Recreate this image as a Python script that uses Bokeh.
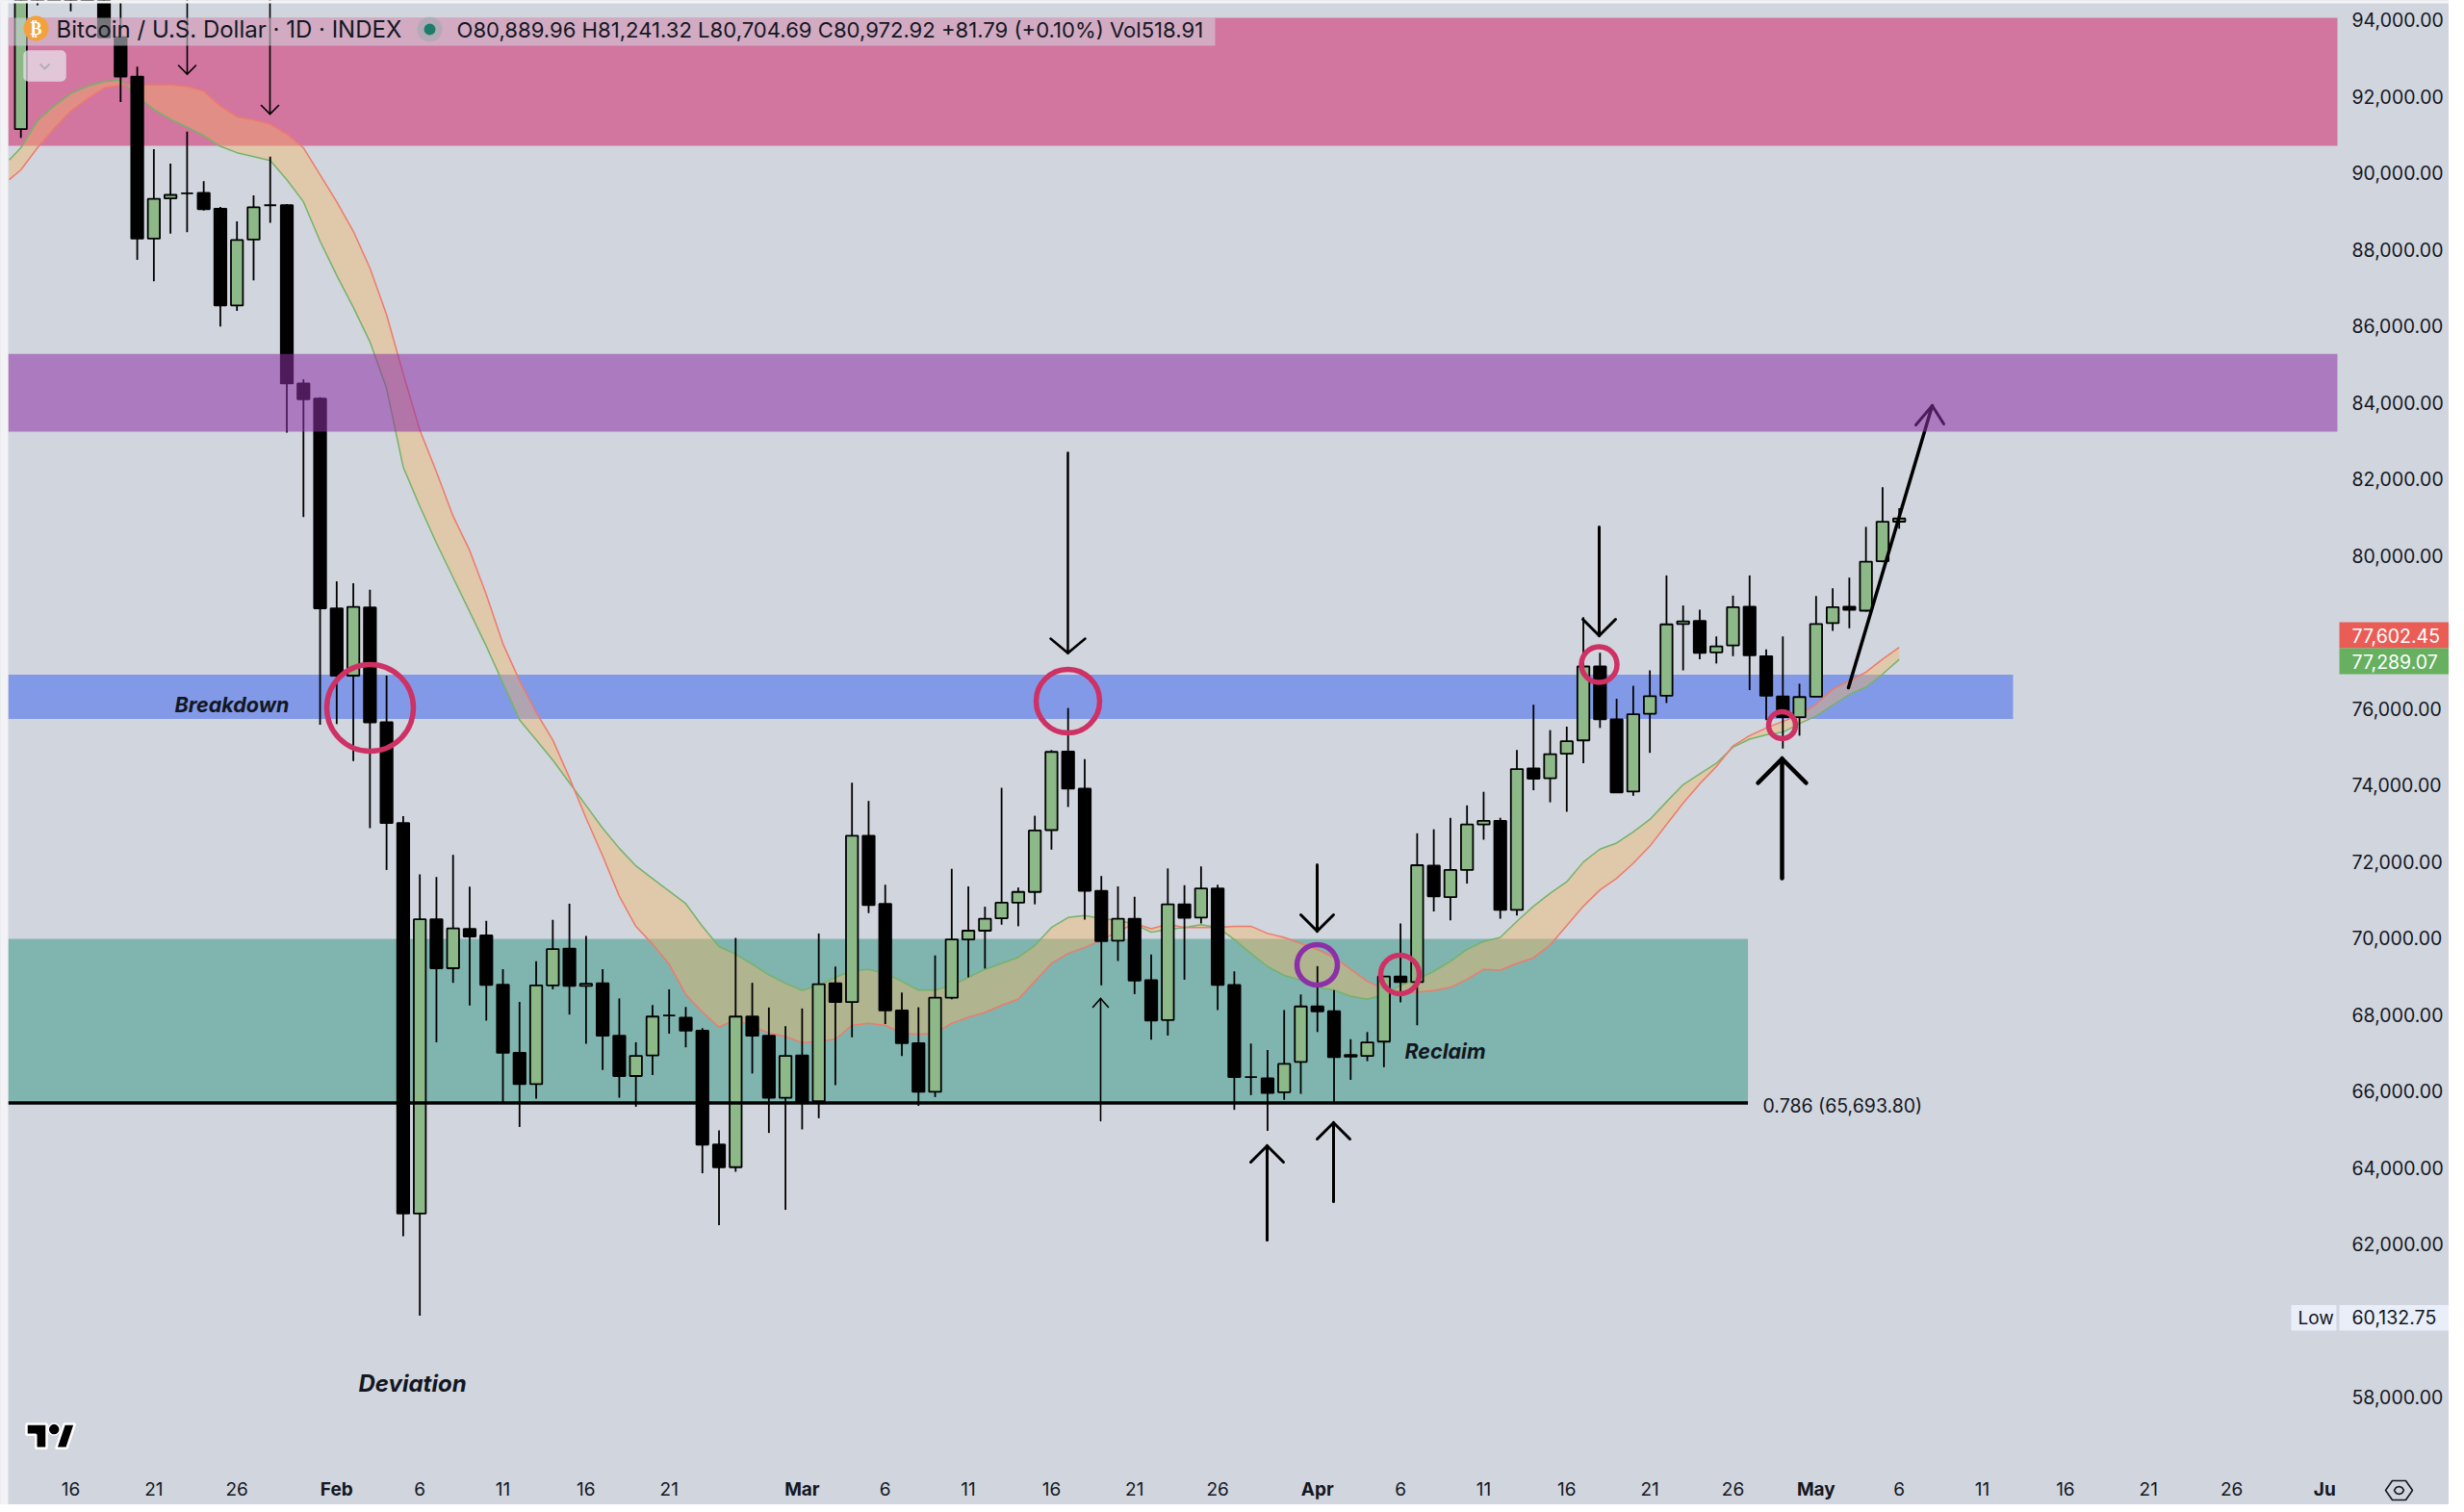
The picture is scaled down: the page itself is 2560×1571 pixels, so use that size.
from bokeh.plotting import figure
from bokeh.models import (Range1d, LinearAxis, FixedTicker, NumeralTickFormatter, Label,
                          BoxAnnotation, PolyAnnotation)
from bokeh.embed import file_html
from bokeh.resources import INLINE

# ---- data: day numbers count from 16 Jan (0) ----
first_day = -3
opens = [91150,96000,97000,97300,96800,96500,93551,92524,88288,89341,89470,89482,89072,86543,88263,89161,89161,84502,84104,78624,
 76865,78648,75645,73011,62805,70496,69218,70245,70074,68784,67006,66189,68770,69732,68757,68823,67453,66400,66940,67980,
 67927,67585,64608,64016,67954,67453,65833,66940,65741,68823,68332,72682,70898,68113,67258,65986,68447,69970,70199,70523,
 70929,71211,72828,74882,73912,71242,69939,70512,68906,67863,70888,70544,71305,68781,66372,66340,65976,66768,68218,68092,
 66950,66924,67300,69000,68854,71899,71075,71785,72974,73068,70742,74443,74184,74825,75173,77104,75723,73836,75869,76340,
 78216,78294,77474,77655,78665,77374,76318,75779,76317,78238,78665,78564,79856,80889.96]
highs = [97000,97600,97600,97500,97200,97000,94500,92781,90624,90252,91087,89790,89120,88738,89418,90432,89190,84610,84140,79330,
 79278,79111,76865,73195,71668,71602,72181,71352,70456,69192,68336,69402,70482,70904,70061,69192,68428,67282,68257,68665,
 68204,67650,64977,70009,68836,68191,67703,68165,70126,69261,74069,73589,71399,68583,68197,69553,71816,71357,70825,73933,
 71326,73203,74920,76019,74684,71628,71357,71086,69574,71826,71388,71879,71399,69136,67248,67081,68124,68531,69271,68645,
 67362,67550,69000,70387,72744,72849,73151,73474,73829,73151,74924,76105,75442,75532,78396,77463,76262,76599,77003,79485,
 78699,78587,77890,78957,79485,77553,77890,76655,78946,79148,79429,80754,81787,81241.32]
lows = [90920,94385,95500,94231,95200,93551,91857,87736,87171,88417,88455,89020,85991,86402,87197,88699,83220,81011,75582,75600,
 74631,72879,71786,62212,60132.75,67282,68836,68244,67848,65702,65069,65807,68665,68006,67243,66558,65833,65596,66426,67506,
 67150,63858,62502,63897,66466,64912,62902,65004,65297,66163,67415,70658,67759,66924,65620,65850,68405,68979,69208,70356,
 70314,70888,72317,73433,70491,68771,69407,68541,67352,67456,68917,70387,68124,65516,65902,64964,65777,65934,67550,65694,
 66299,66789,66632,68322,67727,70700,70470,71430,72577,70512,70596,73870,73555,73308,74577,75498,73814,73724,74847,76150,
 77003,77295,77183,77374,76487,75700,74959,75296,76317,78036,78104,78540,79830,80704.69]
closes = [96000,97000,97300,96800,96500,93551,92524,88288,89328,89431,89470,89058,86543,88250,89110,89161,84502,84092,78624,76865,
 78662,75645,73011,62805,70496,69218,70258,70048,68784,67006,66189,68770,69718,68757,68810,67453,66400,66927,67954,67980,
 67585,64608,64016,67954,67453,65833,66927,65728,68800,68332,72682,70867,68113,67258,65986,68447,69970,70199,70512,70929,
 71211,72817,74872,73912,71242,69928,70512,68896,67852,70888,70533,71305,68781,66372,66372,65955,66716,68218,68092,66893,
 66905,67279,69000,68854,71910,71096,71785,72974,73068,70742,74423,74173,74813,75150,77104,75723,73814,75858,76329,78205,
 78283,77463,77632,78654,77396,76340,75779,76306,78216,78654,78587,79844,80889,80972.92]

ribbon_days = [-3.7] + list(range(-3, 111))
ema_green = [90342,90663,91369,91754,92075,92267,92396,92434,92011,91664,91407,91202,90984,90701,90534,90432,90329,89829,89251,88224,
 87326,86491,85593,84374,82320,81293,80331,79432,78534,77635,76673,75710,75184,74657,74065,73472,72879,72353,71892,71562,
 71233,70904,70311,69784,69587,69323,69045,68823,68635,68770,68979,69156,69188,69083,68875,68645,68645,68770,68979,69188,
 69344,69501,69813,70283,70544,70596,70512,70470,70366,70158,70231,70283,70356,70283,69970,69605,69261,69031,68906,68718,
 68645,68489,68405,68531,68770,68927,69136,69396,69709,69918,70022,70445,70838,71175,71478,71994,72331,72489,72781,73106,
 73567,74016,74297,74577,74993,75206,75319,75386,75611,75813,76093,76374,76565,76902,77289.07]
ema_red = [89829,90085,90663,91176,91626,91946,92229,92306,92306,92306,92306,92267,92139,91754,91471,91394,91279,91022,90663,89957,
 89251,88481,87518,86299,84759,83283,82192,81037,80138,78983,77700,76737,75903,75184,74196,73143,72155,71101,70311,69850,
 69323,68533,68072,67677,67875,67700,67520,67430,67270,67310,67362,67727,67780,67727,67519,67487,67519,67780,67936,68061,
 68249,68405,68875,69344,69605,69761,69949,70178,70387,70251,70366,70283,70283,70283,70314,70314,70126,70022,69866,69709,
 69501,69188,68875,68666,68562,68593,68635,68718,68927,69188,69167,69344,69490,69827,70332,70838,71264,71568,71961,72410,
 72972,73533,74038,74488,75027,75296,75498,75667,75835,76116,76509,76734,76958,77295,77602.45]

zone_pink = (90714, 94060)
zone_purple = (83243, 85272)
zone_blue = (75736, 76891)
zone_teal = (65693.8, 69986)
fib_level = 65693.80
blue_end_day = 116.85
teal_end_day = 100.9

price_ticks = [58000,62000,64000,66000,68000,70000,72000,74000,76000,80000,82000,84000,86000,88000,90000,92000,94000]
day_ticks = [0,5,10,21,26,31,36,49,54,59,64,69,80,85,90,95,100,110,115,120,125,130]
day_labels = ["16","21","26","6","11","16","21","6","11","16","21","26","6","11","16","21","26","6","11","16","21","26"]
month_ticks = [16,44,75,105,135.6]
month_labels = ["Feb","Mar","Apr","May","Ju"]

# ---- reference pixel -> data helpers for chrome and drawings ----
def X(px): return (px - 73) / 17.27
def Y(py): return 94000 - (py - 20.4) / 0.03975

W, H = 2544, 1563
BG = "#d1d5de"
INK = "#131722"
FONT = "Inter"
STRIP = "#F3F3F5"
p = figure(width=W, height=H, output_backend="svg", toolbar_location=None,
           x_range=Range1d(X(0), X(W)), y_range=Range1d(Y(H), Y(0)),
           min_border_left=0, min_border_top=0, min_border_right=0, min_border_bottom=0,
           x_axis_type=None, y_axis_type=None, background_fill_color=BG, border_fill_color=BG)
p.outline_line_color = None
p.grid.visible = False

def style(ax, standoff, size="19.5px"):
    ax.major_tick_line_color = None; ax.minor_tick_line_color = None; ax.axis_line_color = None
    ax.major_tick_out = 0; ax.major_tick_in = 0; ax.minor_tick_out = 0; ax.minor_tick_in = 0
    ax.major_label_standoff = standoff
    ax.major_label_text_font = FONT; ax.major_label_text_font_size = size; ax.major_label_text_color = INK

L, R = X(8), X(2428)
p.quad(left=L, right=R, bottom=zone_pink[0], top=zone_pink[1], fill_color="#D276A0", line_color=None)
p.quad(left=L, right=blue_end_day, bottom=zone_blue[0], top=zone_blue[1], fill_color="#8299E8", line_color=None)
p.quad(left=L, right=teal_end_day, bottom=zone_teal[0], top=zone_teal[1], fill_color="#80B4AF", line_color=None)

p.varea(x=ribbon_days, y1=ema_green, y2=ema_red, fill_color="#F8B560", fill_alpha=0.4)
p.line(ribbon_days, ema_green, line_color="#74B36A", line_width=1.5)
p.line(ribbon_days, ema_red, line_color="#EE7A6B", line_width=1.5)

days = [first_day + i for i in range(len(opens))]
assert len(opens) == len(highs) == len(lows) == len(closes)
assert len(ema_green) == len(ema_red) == len(ribbon_days)
p.segment(days, highs, days, lows, line_color="#000000", line_width=1.8)
ups = [i for i in range(len(days)) if closes[i] >= opens[i]]
downs = [i for i in range(len(days)) if closes[i] < opens[i]]
p.vbar(x=[days[i] for i in ups], width=0.72, bottom=[opens[i] for i in ups], top=[closes[i] for i in ups],
       fill_color="#8DB888", line_color="#000000", line_width=1.8)
p.vbar(x=[days[i] for i in downs], width=0.72, bottom=[closes[i] for i in downs], top=[opens[i] for i in downs],
       fill_color="#000000", line_color="#000000", line_width=1.8)

p.line([L, teal_end_day], [fib_level, fib_level], line_color="#000000", line_width=3.5)

def arrow(x, tail, tip, half, hh, lw):
    d = 1 if tail > tip else -1  # up on the page if tail is lower
    p.line([X(x), X(x)], [Y(tail), Y(tip)], line_color="#000000", line_width=lw, line_cap="round")
    p.line([X(x - half), X(x), X(x + half)], [Y(tip + d * hh), Y(tip), Y(tip + d * hh)],
           line_color="#000000", line_width=lw, line_cap="round", line_join="miter")

arrow(194, 0, 76.5, 9, 9, 1.6)
arrow(280, 0, 118, 9, 9, 1.6)
arrow(1109, 470, 678, 18, 15, 2.5)
arrow(1143, 1164, 1037, 8, 9, 1.6)
arrow(1316, 1288, 1190, 17, 17, 3)
arrow(1385, 1248, 1166, 17, 17, 3)
arrow(1368, 898, 967, 17, 17, 3)
arrow(1661, 547, 660, 17, 17, 3)
arrow(1851, 912, 788, 25, 25, 4.5)
p.line([X(1920), X(2007)], [Y(714), Y(421)], line_color="#000000", line_width=3.5, line_cap="round")
p.line([X(1990), X(2007), X(2019)], [Y(441), Y(421), Y(440)], line_color="#000000", line_width=3, line_cap="round")

p.quad(left=L, right=R, bottom=zone_purple[0], top=zone_purple[1], fill_color="#8E31A5", fill_alpha=0.55, line_color=None)

RED = "#CE3163"
for cx, cy, r, col in [(384, 735, 45, RED), (1109, 728, 33, RED), (1368, 1002, 21, "#8C30A8"),
                       (1454, 1012, 20, RED), (1661, 690, 18.5, RED), (1851, 753, 14, RED)]:
    p.scatter([X(cx)], [Y(cy)], marker="circle", size=2 * r, fill_color=None, line_color=col, line_width=5.5)

# window edge strips
p.quad(left=X(0), right=X(8), bottom=Y(H), top=Y(0), fill_color=STRIP, line_color=None)
p.quad(left=X(0), right=X(W), bottom=Y(3), top=Y(0), fill_color=STRIP, line_color=None)

# header strip
p.quad(left=L, right=X(1262), bottom=Y(47), top=Y(18), fill_color=BG, fill_alpha=0.55, line_color=None)
p.scatter([X(37)], [Y(29)], marker="circle", size=26, fill_color="#F2A23C", line_color=None)
p.scatter([X(446)], [Y(30)], marker="circle", size=26, fill_color="#7FA9A3", fill_alpha=0.35, line_color=None)
p.scatter([X(446)], [Y(30)], marker="circle", size=12, fill_color="#1E7D6A", line_color=None)

# axes sit on the pane edges, with their labels in the scale areas
yax = LinearAxis(ticker=FixedTicker(ticks=price_ticks), formatter=NumeralTickFormatter(format="0,0.00"), fixed_location=X(2428))
style(yax, 15)
p.add_layout(yax, "right")
xax = LinearAxis(ticker=FixedTicker(ticks=day_ticks), major_label_overrides=dict(zip(day_ticks, day_labels)), fixed_location=Y(1517))
style(xax, 22, "19px")
p.add_layout(xax, "below")
mon = LinearAxis(ticker=FixedTicker(ticks=month_ticks), major_label_overrides=dict(zip(month_ticks, month_labels)), fixed_location=Y(1517))
style(mon, 18, "19px")
mon.major_label_text_font_style = "bold"
p.add_layout(mon, "below")

def text(s, px, py, size, **kw):
    p.add_layout(Label(x=X(px), y=Y(py), text=s,
                       text_font=kw.pop("font", FONT), text_font_size=f"{size}px",
                       text_color=kw.pop("color", INK), text_baseline="middle", **kw))

def box(l, r, t, b, col, **kw):
    p.add_layout(BoxAnnotation(left=X(l), right=X(r), top=Y(t), bottom=Y(b), fill_color=col, fill_alpha=kw.pop("alpha", 1),
                               line_color=kw.pop("line", None), **kw))

text("₿", 37, 29, 18, font="DejaVu Sans", color="#FFFFFF", text_align="center", text_font_style="bold")
text("Bitcoin / U.S. Dollar · 1D · INDEX", 58, 30, 24)
text("O80,889.96 H81,241.32 L80,704.69 C80,972.92 +81.79 (+0.10%) Vol518.91", 474, 30, 22.1)

box(24, 68, 52, 84, "#E6E3EA", alpha=0.75, line="#E9E9EE", border_radius=5)
p.line([X(41), X(46), X(51)], [Y(66), Y(71), Y(66)], line_color=INK, line_width=2)

text("Breakdown", 181, 731, 21.5, text_font_style="bold italic")
text("Deviation", 372, 1437, 24, text_font_style="bold italic")
text("Reclaim", 1459, 1091, 21.5, text_font_style="bold italic")
text("0.786 (65,693.80)", 1831, 1148, 19.5)

# logo
ox, oy, k = 27, 1479, 1.4
tv_t = [(0,0),(15,0),(15,18),(7,18),(7,8),(0,8)]
tv_s = [(22,18),(28,0),(36,0),(30,18)]
for poly in (tv_t, tv_s):
    p.patch([X(ox + a * k) for a, b in poly], [Y(oy + b * k) for a, b in poly], fill_color="#000000",
            line_color="#FFFFFF", line_width=2.5)
p.scatter([X(ox + 20.5 * k)], [Y(oy + 4 * k)], marker="circle", size=12, fill_color="#000000", line_color="#FFFFFF", line_width=1.5)

# price tags on the axis
for top, bot, col, s in [(646, 673, "#EA5D57", "77,602.45"), (673, 700, "#66B060", "77,289.07")]:
    box(2430, 2544, top, bot, col)
    text(s, 2443, (top + bot) / 2, 19.5, color="#FFFFFF")
box(2380, 2427, 1355.5, 1382, "#E9EEF9")
box(2430, 2544, 1355.5, 1382, "#E9EEF9")
text("Low", 2387, 1369, 19)
text("60,132.75", 2443, 1368, 19.5)

# settings icon
hx = [2478, 2485, 2499, 2506, 2499, 2485]
hy = [1548, 1538, 1538, 1548, 1558, 1558]
p.add_layout(PolyAnnotation(xs=[X(a) for a in hx], ys=[Y(b) for b in hy], fill_alpha=0, line_color=INK, line_alpha=1, line_width=1.6))
cx = [2487, 2489, 2492, 2495, 2497, 2495, 2492, 2489]
cy = [1548, 1545, 1544, 1545, 1548, 1551, 1552, 1551]
p.add_layout(PolyAnnotation(xs=[X(a) for a in cx], ys=[Y(b) for b in cy], fill_alpha=0, line_color=INK, line_alpha=1, line_width=1.6))

open("out.html", "w").write(file_html(p, INLINE))
